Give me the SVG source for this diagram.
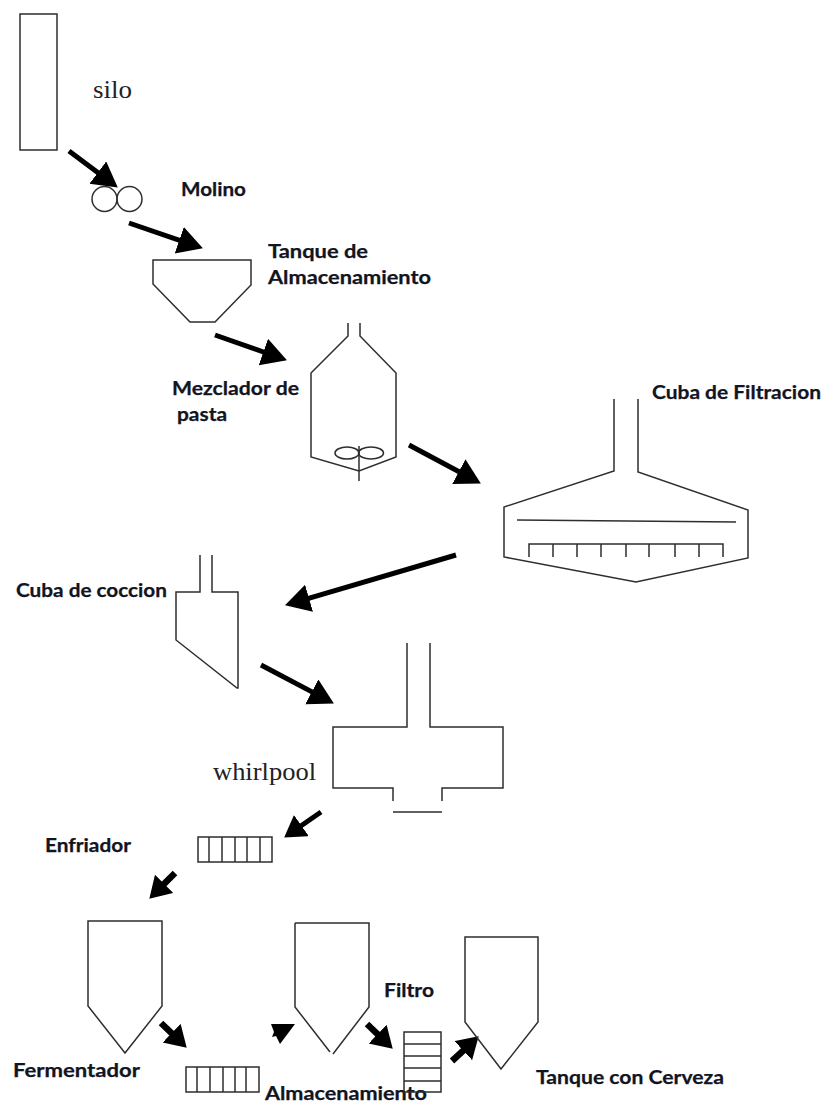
<svg xmlns="http://www.w3.org/2000/svg" width="824" height="1104" viewBox="0 0 824 1104">
<defs>
<style>
.s{fill:none;stroke:#2e2e2e;stroke-width:1.5}
.a{fill:none;stroke:#000;stroke-width:5}
.b{fill:none;stroke:#000;stroke-width:6.5}
.h{fill:#000;stroke:none}
.l{font-family:Lato,"Open Sans",sans-serif;font-weight:700;font-size:18px;fill:#12141f;stroke:#12141f;stroke-width:.25}
.t{font-family:"Liberation Serif",serif;font-size:25px;fill:#222}
</style>
<marker id="big" markerUnits="userSpaceOnUse" markerWidth="28" markerHeight="30" refX="12" refY="14" orient="auto"><path class="h" d="M0,0L25,14L0,28Z"/></marker>
<marker id="small" markerUnits="userSpaceOnUse" markerWidth="24" markerHeight="30" refX="10" refY="13" orient="auto"><path class="h" d="M0,0L21,13L0,26Z"/></marker>
</defs>
<rect width="824" height="1104" fill="#fff"/>
<g id="connectors">
<path class="a" marker-end="url(#big)" d="M69,151L107.400,179.800"/>
<path class="a" marker-end="url(#big)" d="M129,223L190.600,244.100"/>
<path class="a" marker-end="url(#big)" d="M215,335L274.700,356"/>
<path class="a" marker-end="url(#big)" d="M409,445L469.400,477.300"/>
<path class="a" marker-end="url(#big)" d="M456,555L297.500,601.600"/>
<path class="a" marker-end="url(#big)" d="M261,665L322.400,697.400"/>
<path class="a" marker-end="url(#small)" d="M321,812L293.200,831.300"/>
<path class="b" marker-end="url(#small)" d="M175,873L157.100,890.900"/>
<path class="b" marker-end="url(#small)" d="M161,1023L178.800,1040.100"/>
<path class="h" d="M271,1024L295,1024L280,1044L276,1036L272,1037L274,1032Z"/>
<path class="b" marker-end="url(#small)" d="M367,1024L384.800,1041.100"/>
<path class="b" marker-end="url(#small)" d="M452,1061L470.600,1043.800"/>
</g>
<g id="silo"><rect class="s" x="20" y="14" width="37" height="136"/><text class="t" x="93" y="98" textLength="39" lengthAdjust="spacingAndGlyphs">silo</text></g>
<g id="molino"><circle class="s" cx="104.500" cy="199" r="12.500"/><circle class="s" cx="129.500" cy="199" r="12.500"/><text class="l" x="181" y="196" textLength="65" lengthAdjust="spacingAndGlyphs">Molino</text></g>
<g id="tanque-almacenamiento"><path class="s" d="M153,260H251V285L215,322H190L153,284Z"/><text class="l" x="268" y="258" textLength="100" lengthAdjust="spacingAndGlyphs">Tanque de</text><text class="l" x="268" y="284" textLength="163" lengthAdjust="spacingAndGlyphs">Almacenamiento</text></g>
<g id="mezclador"><path class="s" d="M348,323V336L311,373V457L359,471L396,457V373L360,336V323"/><ellipse class="s" cx="347" cy="453" rx="12" ry="6"/><ellipse class="s" cx="371" cy="453" rx="12.500" ry="6"/><path class="s" d="M359,446V481"/><text class="l" x="172" y="395" textLength="127" lengthAdjust="spacingAndGlyphs">Mezclador de</text><text class="l" x="177" y="421" textLength="50" lengthAdjust="spacingAndGlyphs">pasta</text></g>
<g id="cuba-filtracion"><path class="s" d="M614,399V471L504,507V557L636,582L748,558V510L638,472V399"/><path class="s" d="M517,520L736,522"/><path class="s" d="M529,557V544H723V557M553,544V557M577,544V557M601,544V557M626,544V557M649,544V557M675,544V557M699,544V557"/><text class="l" x="652" y="399" textLength="169" lengthAdjust="spacingAndGlyphs">Cuba de Filtracion</text></g>
<g id="cuba-coccion"><path class="s" d="M200,555V592H176V640L237,688H238V592H212V555"/><text class="l" x="16" y="597" textLength="151" lengthAdjust="spacingAndGlyphs">Cuba de coccion</text></g>
<g id="whirlpool"><path class="s" d="M407,643V727H333V788H393V801M430,643V727H503V788H442V801M393,812H442"/><text class="t" x="213" y="780" textLength="103" lengthAdjust="spacingAndGlyphs">whirlpool</text></g>
<g id="enfriador"><rect class="s" x="198" y="837" width="74" height="25"/><path class="s" d="M209,837V862M222,837V862M235,837V862M247,837V862M260,837V862"/><text class="l" x="45" y="852" textLength="86" lengthAdjust="spacingAndGlyphs">Enfriador</text></g>
<g id="fermentador"><path class="s" d="M88,921H162V1006L125,1053L88,1006Z"/><text class="l" x="13" y="1077" textLength="127" lengthAdjust="spacingAndGlyphs">Fermentador</text></g>
<g id="intercambiador"><rect class="s" x="186" y="1067" width="73" height="25"/><path class="s" d="M197,1067V1092M210,1067V1092M223,1067V1092M235,1067V1092M246,1067V1092"/></g>
<g id="almacenamiento"><path class="s" d="M295,923H369V1007L333,1054M330,1052L295,1007V923"/><text class="l" x="265" y="1100" textLength="162" lengthAdjust="spacingAndGlyphs">Almacenamiento</text></g>
<g id="filtro"><rect class="s" x="404" y="1032" width="37" height="60"/><path class="s" d="M404,1044H441M404,1056H441M404,1068H441M404,1081H441"/><text class="l" x="384" y="997" textLength="50" lengthAdjust="spacingAndGlyphs">Filtro</text></g>
<g id="tanque-cerveza"><path class="s" d="M465,937H538V1022L501,1069L465,1022Z"/><text class="l" x="536" y="1084" textLength="188" lengthAdjust="spacingAndGlyphs">Tanque con Cerveza</text></g>
</svg>
